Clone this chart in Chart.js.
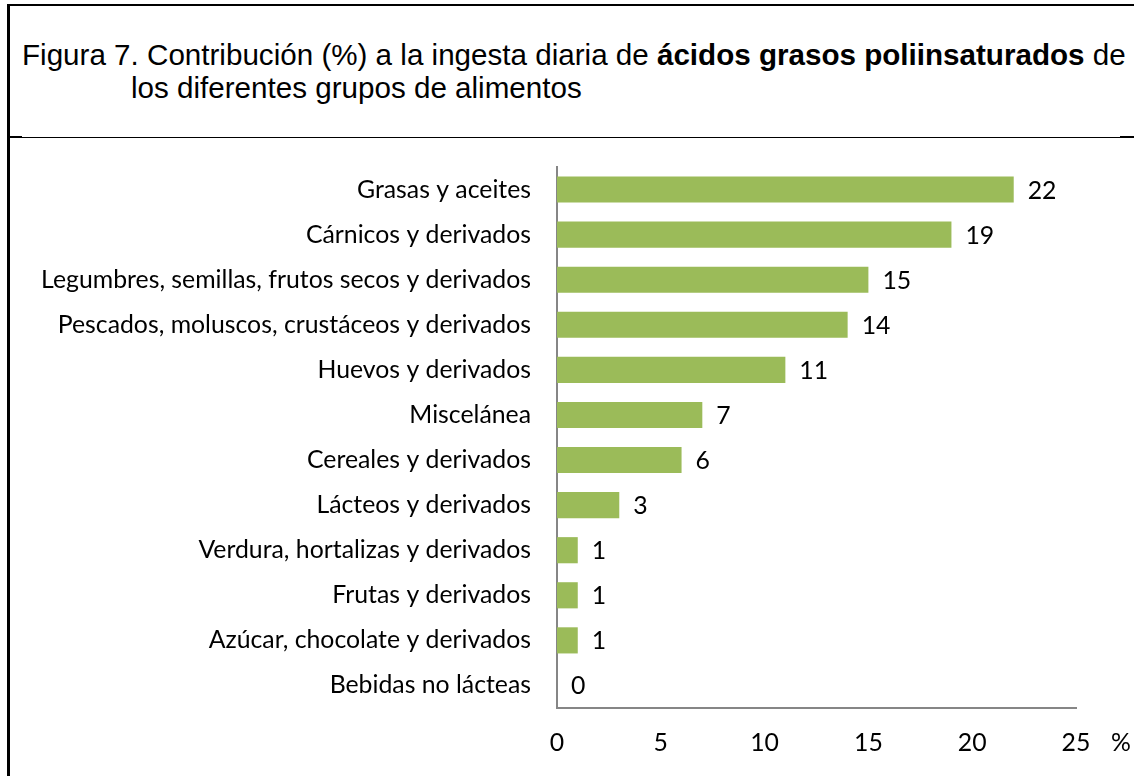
<!DOCTYPE html>
<html>
<head>
<meta charset="utf-8">
<script src="https://cdn.jsdelivr.net/npm/chart.js@4"></script>
<style>
  html, body { margin: 0; padding: 0; background: #fff; }
  body { width: 1134px; height: 776px; position: relative; overflow: hidden; }
  #frameTop { position: absolute; left: 7px; top: 4px; width: 1127px; height: 2px; background: #000; }
  #frameLeft { position: absolute; left: 7px; top: 4px; width: 3px; height: 772px; background: #000; }
  #sep { position: absolute; left: 7px; top: 137px; width: 1127px; height: 1px; background: #000; }
  .stub { position: absolute; top: 136px; height: 2px; background: #000; }
  .title { position: absolute; font-family: "Liberation Sans", Arial, sans-serif; font-size: 29.6px; line-height: 34px; color: #000; white-space: nowrap; }
  #chartBox { position: absolute; left: 0; top: 0; width: 1134px; height: 776px; }
</style>
</head>
<body>
<div id="frameTop"></div>
<div id="frameLeft"></div>
<div id="sep"></div>
<div class="stub" style="left:7px; width:15px;"></div>
<div class="stub" style="left:1120px; width:14px;"></div>
<div class="title" style="left:22px; top:38px;">Figura 7. Contribución (%) a la ingesta diaria de <b>ácidos grasos poliinsaturados</b> de</div>
<div class="title" style="left:131px; top:71px;">los diferentes grupos de alimentos</div>
<div id="chartBox"><canvas id="chart" width="1134" height="776"></canvas></div>
<script>
const categories = [
  'Grasas y aceites',
  'Cárnicos y derivados',
  'Legumbres, semillas, frutos secos y derivados',
  'Pescados, moluscos, crustáceos y derivados',
  'Huevos y derivados',
  'Miscelánea',
  'Cereales y derivados',
  'Lácteos y derivados',
  'Verdura, hortalizas y derivados',
  'Frutas y derivados',
  'Azúcar, chocolate y derivados',
  'Bebidas no lácteas'
];
const values = [22, 19, 15, 14, 11, 7, 6, 3, 1, 1, 1, 0];
const xTicks = [0, 5, 10, 15, 20, 25];

const fontSize = 24.8;
const labelFont = fontSize + 'px Lato, "Noto Sans", sans-serif';

// etiquetas de valor al final de cada barra + el "%" del eje
const valueLabels = {
  id: 'valueLabels',
  afterDatasetsDraw(chart) {
    const ctx = chart.ctx;
    const meta = chart.getDatasetMeta(0);
    ctx.save();
    ctx.font = labelFont;
    ctx.fillStyle = '#000';
    ctx.textAlign = 'left';
    ctx.textBaseline = 'middle';
    meta.data.forEach((bar, i) => {
      ctx.fillText(String(values[i]), bar.x + 14, bar.y + 1);
    });
    const xs = chart.scales.x;
    ctx.textAlign = 'center';
    ctx.fillText('%', xs.right + 45, xs.bottom - 33);
    ctx.restore();
  }
};

new Chart(document.getElementById('chart'), {
  type: 'bar',
  data: {
    labels: categories,
    datasets: [{
      data: values,
      backgroundColor: '#9BBB59',
      borderWidth: 0,
      barPercentage: 0.58,
      categoryPercentage: 1
    }]
  },
  options: {
    indexAxis: 'y',
    responsive: false,
    animation: false,
    events: [],
    layout: { padding: { top: 167, right: 58, left: 0, bottom: 0 } },
    plugins: { legend: { display: false }, tooltip: { enabled: false } },
    scales: {
      x: {
        min: 0,
        max: 25,
        afterFit(scale) { scale.height = 68; },
        afterBuildTicks(scale) { scale.ticks = xTicks.map(v => ({ value: v })); },
        grid: { display: false, drawTicks: false },
        border: { display: true, color: '#868686', width: 2 },
        ticks: { color: '#000', font: { family: 'Lato', size: fontSize }, padding: 20, maxRotation: 0 }
      },
      y: {
        afterFit(scale) { scale.width = 557; },
        grid: { display: false, drawTicks: false },
        border: { display: true, color: '#868686', width: 2 },
        ticks: { color: '#000', font: { family: 'Lato', size: fontSize }, padding: 26, autoSkip: false }
      }
    }
  },
  plugins: [valueLabels]
});
</script>
</body>
</html>
